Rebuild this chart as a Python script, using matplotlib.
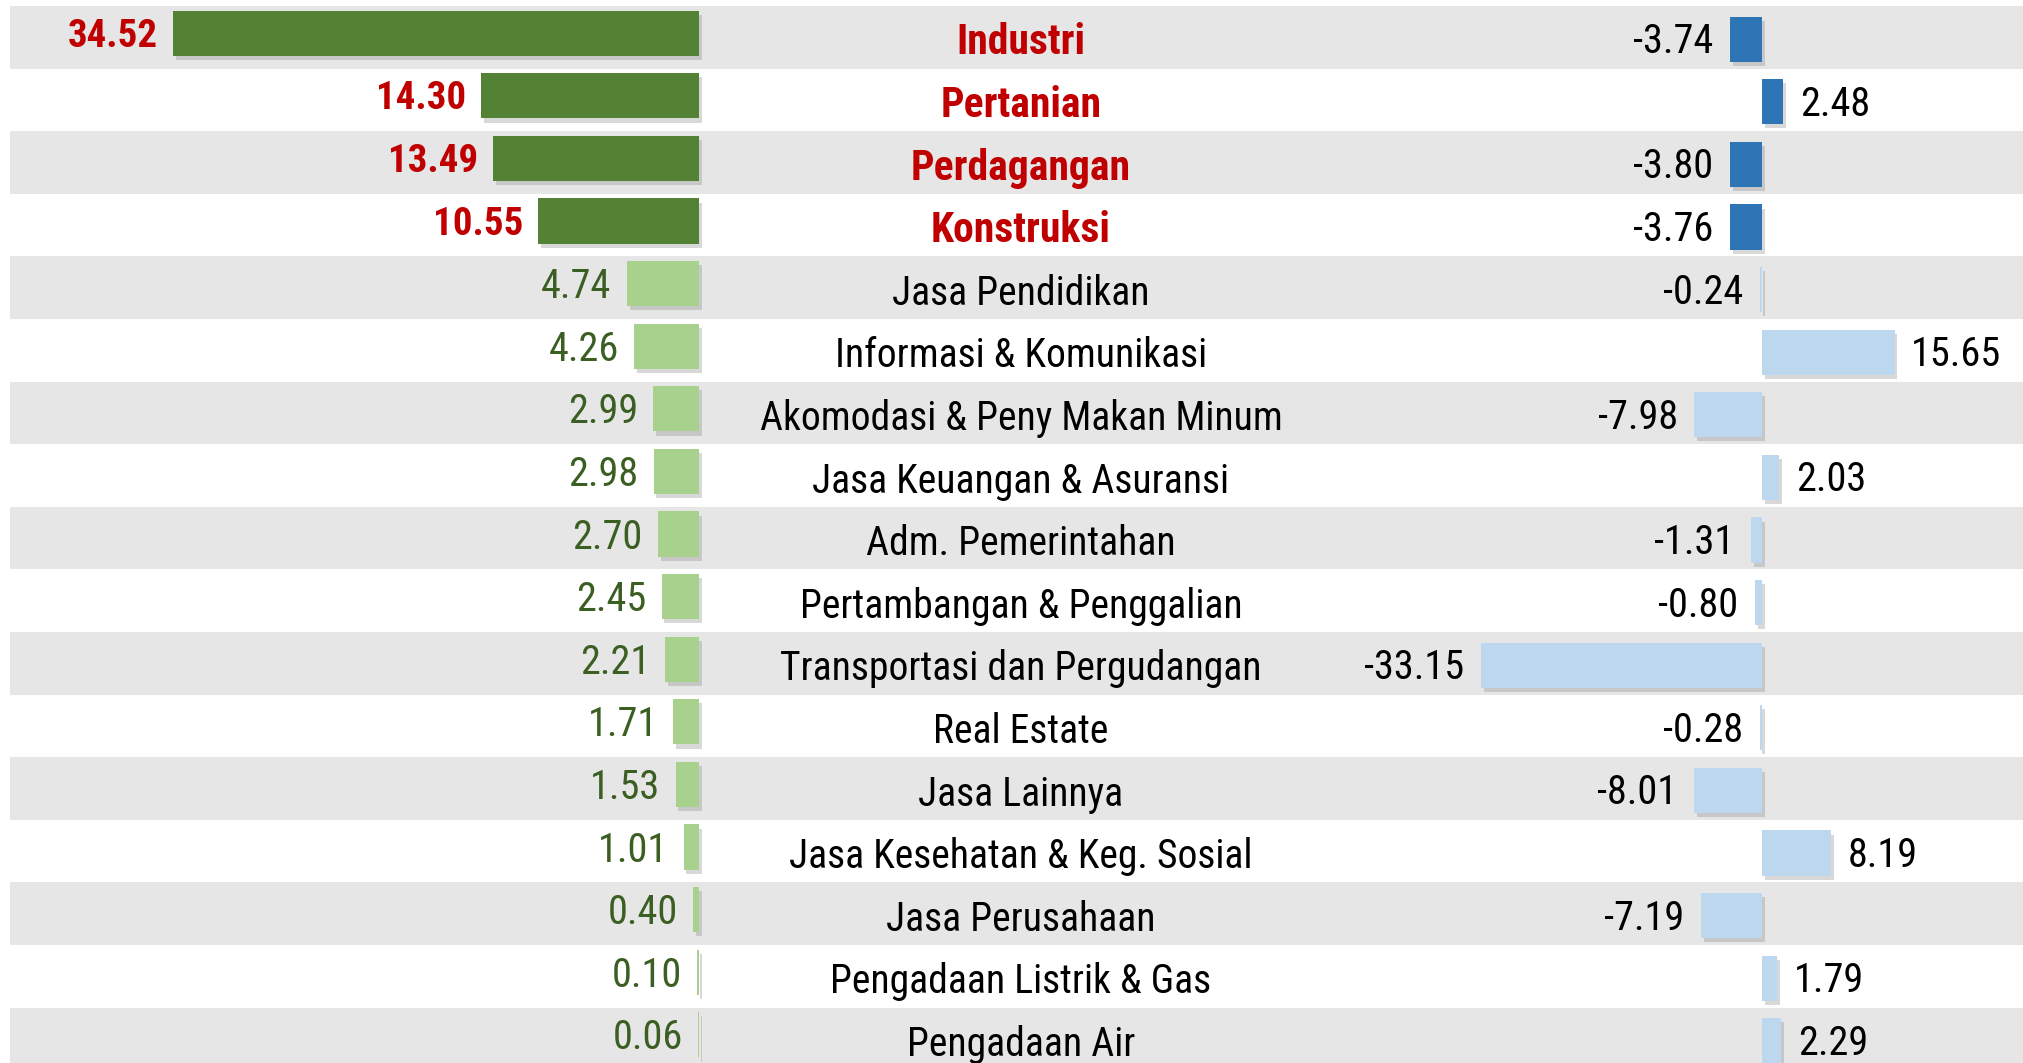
import matplotlib
matplotlib.use("Agg")
import matplotlib.pyplot as plt
import matplotlib.patheffects as pe
from matplotlib import font_manager

sectors = [
    "Industri", "Pertanian", "Perdagangan", "Konstruksi", "Jasa Pendidikan",
    "Informasi & Komunikasi", "Akomodasi & Peny Makan Minum",
    "Jasa Keuangan & Asuransi", "Adm. Pemerintahan",
    "Pertambangan & Penggalian", "Transportasi dan Pergudangan",
    "Real Estate", "Jasa Lainnya", "Jasa Kesehatan & Keg. Sosial",
    "Jasa Perusahaan", "Pengadaan Listrik & Gas", "Pengadaan Air",
]
share = [34.52, 14.30, 13.49, 10.55, 4.74, 4.26, 2.99, 2.98, 2.70, 2.45,
         2.21, 1.71, 1.53, 1.01, 0.40, 0.10, 0.06]
growth = [-3.74, 2.48, -3.80, -3.76, -0.24, 15.65, -7.98, 2.03, -1.31, -0.80,
          -33.15, -0.28, -8.01, 8.19, -7.19, 1.79, 2.29]
n_top = 4

names = {f.name for f in font_manager.fontManager.ttflist}
font = "Liberation Sans Narrow" if "Liberation Sans Narrow" in names else "Roboto Condensed"
if font not in names:
    font = "Liberation Sans"
plt.rcParams["font.family"] = [font, "DejaVu Sans"]

W, H = 2023, 1063
pitch = 62.6
top = -0.5 - 6 / pitch
bottom = top + H / pitch

fig = plt.figure(figsize=(W / 100, H / 100), dpi=100)

# background bands and sector names
bg = fig.add_axes([0, 0, 1, 1])
bg.set_xlim(0, W)
bg.set_ylim(bottom, top)
bg.axis("off")
for i, name in enumerate(sectors):
    if i % 2 == 0:
        bg.axhspan(i - 0.5, i + 0.5, xmin=10 / W, xmax=1, color="#E6E6E6", lw=0)
    hi = i < n_top
    bg.text(1021, i + 0.09, name, ha="center", va="center",
            fontsize=30 if hi else 28.5,
            color="#C00000" if hi else "black",
            fontweight="bold" if hi else "normal")

shadow = [pe.SimplePatchShadow(offset=(2, -3), shadow_rgbFace="#808080", alpha=0.3),
          pe.Normal()]

# left: share bars
zl, sl = 699, 15.24
axl = fig.add_axes([0, 0, 1, 1])
axl.patch.set_alpha(0)
axl.axis("off")
axl.set_xlim(zl / sl, -(W - zl) / sl)
axl.set_ylim(bottom, top)
ys = [i - 0.065 for i in range(len(share))]
cols = ["#548235" if i < n_top else "#A9D18E" for i in range(len(share))]
bars = axl.barh(ys, share, height=0.72, color=cols, lw=0)
for b in bars:
    b.set_path_effects(shadow)
for i, v in enumerate(share):
    hi = i < n_top
    axl.annotate(f"{v:.2f}", (v, ys[i] + 0.05), xytext=(-11, 0), textcoords="offset points",
                 ha="right", va="center", fontsize=28 if hi else 29,
                 color="#C00000" if hi else "#3B5E22",
                 fontweight="bold" if hi else "normal")

# right: growth bars
zr, sr = 1762, 8.47
axr = fig.add_axes([0, 0, 1, 1])
axr.patch.set_alpha(0)
axr.axis("off")
axr.set_xlim(-zr / sr, (W - zr) / sr)
axr.set_ylim(bottom, top)
yr = [i + 0.03 for i in range(len(growth))]
cols = ["#2E75B6" if i < n_top else "#BDD7EE" for i in range(len(growth))]
bars = axr.barh(yr, growth, height=0.72, color=cols, lw=0)
for b in bars:
    b.set_path_effects(shadow)
for i, v in enumerate(growth):
    off = 12 if v >= 0 else -12
    axr.annotate(f"{v:.2f}", (v, yr[i] + 0.04), xytext=(off, 0), textcoords="offset points",
                 ha="left" if v >= 0 else "right", va="center", fontsize=29,
                 color="black")

fig.savefig("out.png", dpi=100)
